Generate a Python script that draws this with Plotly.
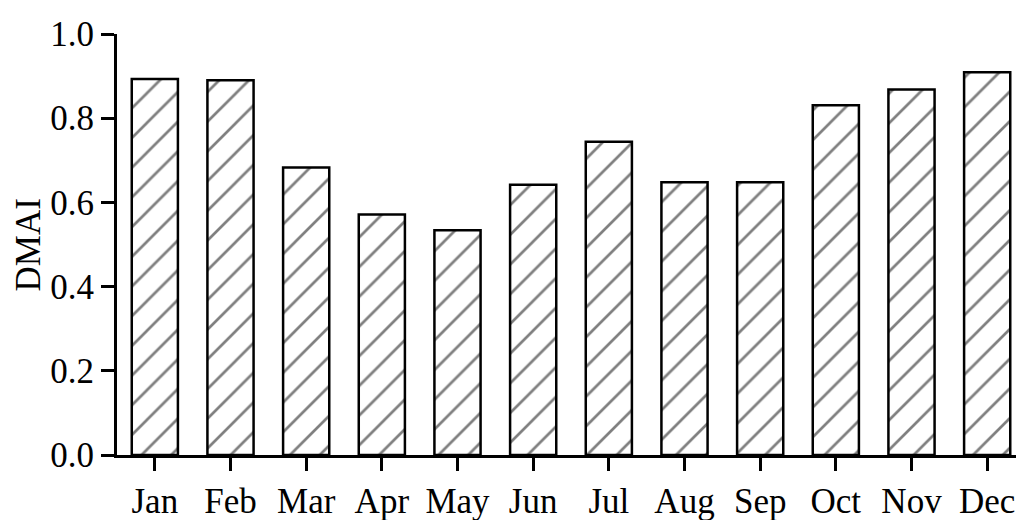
import plotly.graph_objects as go

months = ['Jan', 'Feb', 'Mar', 'Apr', 'May', 'Jun', 'Jul', 'Aug', 'Sep', 'Oct', 'Nov', 'Dec']
dmai = [0.893, 0.890, 0.683, 0.571, 0.534, 0.642, 0.744, 0.648, 0.648, 0.831, 0.868, 0.909]
y_ticks = [0.0, 0.2, 0.4, 0.6, 0.8, 1.0]
y_labels = ['0.0', '0.2', '0.4', '0.6', '0.8', '1.0']

serif = 'Liberation Serif, Times New Roman, serif'

fig = go.Figure()
fig.add_trace(go.Bar(
    x=months, y=dmai, width=0.61,
    marker=dict(color='white', line=dict(color='black', width=2.5),
                pattern=dict(shape='/', fgcolor='black', bgcolor='white', size=21, solidity=0.13)),
    showlegend=False))

axis_style = dict(showline=True, linecolor='black', linewidth=3, ticks='outside',
                  ticklen=13, tickwidth=3, tickcolor='black', showgrid=False, zeroline=False,
                  tickfont=dict(family=serif, size=35, color='black'))

fig.update_xaxes(range=[-0.5, 11.5], **axis_style)
fig.update_yaxes(range=[0, 1.0], tickvals=y_ticks, ticktext=y_labels, **axis_style)

# y axis title placed like the original (close to the left edge)
fig.add_annotation(text='DMAI', xref='paper', yref='paper', x=-0.097, y=0.5,
                   xanchor='center', yanchor='middle', textangle=-90, showarrow=False,
                   font=dict(family=serif, size=35, color='black'))

fig.update_layout(width=1024, height=520, plot_bgcolor='white', paper_bgcolor='white',
                  margin=dict(l=109, r=7, t=24, b=58), bargap=0.39)

fig.write_html("out.html")
